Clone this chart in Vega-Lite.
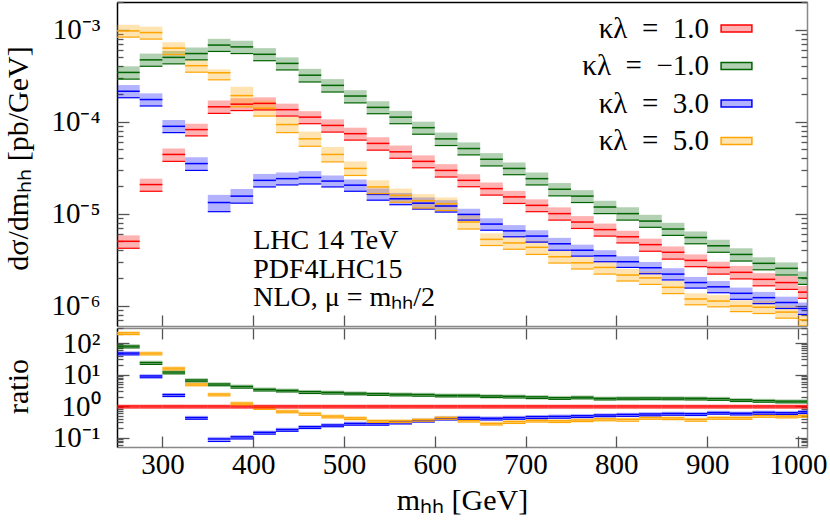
{
  "$schema": "https://vega.github.io/schema/vega-lite/v6.json",
  "padding": {"left": 3, "top": 1, "right": 0, "bottom": 5},
  "spacing": 0,
  "config": {
    "view": {"stroke": null},
    "font": "Liberation Serif",
    "axis": {"labelFont": "Liberation Serif", "titleFont": "Liberation Serif", "labelFontSize": 29, "titleFontSize": 29, "titleFontWeight": "normal", "labelColor": "#000", "titleColor": "#000", "grid": false, "labelFlush": false, "labelOverlap": false, "labelBound": false, "tickColor": "#555", "tickWidth": 1.3, "domainWidth": 1.5}
  },
  "datasets": {
    "top": [
      {"k":"1.0","x":250,"x2":275,"c":5.0e-6,"lo":4.2e-6,"hi":5.8e-6},
      {"k":"1.0","x":275,"x2":300,"c":2.07e-5,"lo":1.75e-5,"hi":2.4e-5},
      {"k":"1.0","x":300,"x2":325,"c":4.4e-5,"lo":3.7e-5,"hi":5.1e-5},
      {"k":"1.0","x":325,"x2":350,"c":8.2e-5,"lo":7.0e-5,"hi":9.5e-5},
      {"k":"1.0","x":350,"x2":375,"c":1.45e-4,"lo":1.23e-4,"hi":1.7e-4},
      {"k":"1.0","x":375,"x2":400,"c":1.55e-4,"lo":1.32e-4,"hi":1.8e-4},
      {"k":"1.0","x":400,"x2":425,"c":1.58e-4,"lo":1.34e-4,"hi":1.84e-4},
      {"k":"1.0","x":425,"x2":450,"c":1.35e-4,"lo":1.15e-4,"hi":1.57e-4},
      {"k":"1.0","x":450,"x2":475,"c":1.12e-4,"lo":9.5e-5,"hi":1.3e-4},
      {"k":"1.0","x":475,"x2":500,"c":9.1e-5,"lo":7.7e-5,"hi":1.06e-4},
      {"k":"1.0","x":500,"x2":525,"c":7.4e-5,"lo":6.3e-5,"hi":8.6e-5},
      {"k":"1.0","x":525,"x2":550,"c":5.8e-5,"lo":4.9e-5,"hi":6.75e-5},
      {"k":"1.0","x":550,"x2":575,"c":4.7e-5,"lo":4.0e-5,"hi":5.5e-5},
      {"k":"1.0","x":575,"x2":600,"c":3.7e-5,"lo":3.15e-5,"hi":4.3e-5},
      {"k":"1.0","x":600,"x2":625,"c":2.95e-5,"lo":2.5e-5,"hi":3.45e-5},
      {"k":"1.0","x":625,"x2":650,"c":2.3e-5,"lo":1.96e-5,"hi":2.68e-5},
      {"k":"1.0","x":650,"x2":675,"c":1.87e-5,"lo":1.59e-5,"hi":2.18e-5},
      {"k":"1.0","x":675,"x2":700,"c":1.52e-5,"lo":1.29e-5,"hi":1.77e-5},
      {"k":"1.0","x":700,"x2":725,"c":1.23e-5,"lo":1.05e-5,"hi":1.43e-5},
      {"k":"1.0","x":725,"x2":750,"c":1.0e-5,"lo":8.5e-6,"hi":1.17e-5},
      {"k":"1.0","x":750,"x2":775,"c":8.1e-6,"lo":6.9e-6,"hi":9.4e-6},
      {"k":"1.0","x":775,"x2":800,"c":6.7e-6,"lo":5.7e-6,"hi":7.8e-6},
      {"k":"1.0","x":800,"x2":825,"c":5.6e-6,"lo":4.8e-6,"hi":6.5e-6},
      {"k":"1.0","x":825,"x2":850,"c":4.6e-6,"lo":3.9e-6,"hi":5.35e-6},
      {"k":"1.0","x":850,"x2":875,"c":3.8e-6,"lo":3.2e-6,"hi":4.4e-6},
      {"k":"1.0","x":875,"x2":900,"c":3.1e-6,"lo":2.65e-6,"hi":3.6e-6},
      {"k":"1.0","x":900,"x2":925,"c":2.6e-6,"lo":2.2e-6,"hi":3.0e-6},
      {"k":"1.0","x":925,"x2":950,"c":2.3e-6,"lo":1.95e-6,"hi":2.7e-6},
      {"k":"1.0","x":950,"x2":975,"c":1.93e-6,"lo":1.64e-6,"hi":2.25e-6},
      {"k":"1.0","x":975,"x2":1000,"c":1.78e-6,"lo":1.5e-6,"hi":2.1e-6},
      {"k":"1.0","x":1000,"x2":1025,"c":1.4e-6,"lo":1.2e-6,"hi":1.63e-6},
      {"k":"−1.0","x":250,"x2":275,"c":3.43e-4,"lo":2.9e-4,"hi":4.0e-4},
      {"k":"−1.0","x":275,"x2":300,"c":4.7e-4,"lo":4.0e-4,"hi":5.5e-4},
      {"k":"−1.0","x":300,"x2":325,"c":5.0e-4,"lo":4.25e-4,"hi":5.85e-4},
      {"k":"−1.0","x":325,"x2":350,"c":5.5e-4,"lo":4.7e-4,"hi":6.4e-4},
      {"k":"−1.0","x":350,"x2":375,"c":6.8e-4,"lo":5.8e-4,"hi":7.95e-4},
      {"k":"−1.0","x":375,"x2":400,"c":6.5e-4,"lo":5.5e-4,"hi":7.6e-4},
      {"k":"−1.0","x":400,"x2":425,"c":5.4e-4,"lo":4.6e-4,"hi":6.3e-4},
      {"k":"−1.0","x":425,"x2":450,"c":4.3e-4,"lo":3.65e-4,"hi":5.0e-4},
      {"k":"−1.0","x":450,"x2":475,"c":3.2e-4,"lo":2.7e-4,"hi":3.75e-4},
      {"k":"−1.0","x":475,"x2":500,"c":2.48e-4,"lo":2.1e-4,"hi":2.9e-4},
      {"k":"−1.0","x":500,"x2":525,"c":1.9e-4,"lo":1.6e-4,"hi":2.2e-4},
      {"k":"−1.0","x":525,"x2":550,"c":1.43e-4,"lo":1.22e-4,"hi":1.67e-4},
      {"k":"−1.0","x":550,"x2":575,"c":1.12e-4,"lo":9.5e-5,"hi":1.31e-4},
      {"k":"−1.0","x":575,"x2":600,"c":8.6e-5,"lo":7.3e-5,"hi":1.0e-4},
      {"k":"−1.0","x":600,"x2":625,"c":6.5e-5,"lo":5.5e-5,"hi":7.6e-5},
      {"k":"−1.0","x":625,"x2":650,"c":5.1e-5,"lo":4.35e-5,"hi":5.95e-5},
      {"k":"−1.0","x":650,"x2":675,"c":3.9e-5,"lo":3.3e-5,"hi":4.55e-5},
      {"k":"−1.0","x":675,"x2":700,"c":3.1e-5,"lo":2.65e-5,"hi":3.6e-5},
      {"k":"−1.0","x":700,"x2":725,"c":2.4e-5,"lo":2.05e-5,"hi":2.8e-5},
      {"k":"−1.0","x":725,"x2":750,"c":1.84e-5,"lo":1.56e-5,"hi":2.15e-5},
      {"k":"−1.0","x":750,"x2":775,"c":1.55e-5,"lo":1.32e-5,"hi":1.8e-5},
      {"k":"−1.0","x":775,"x2":800,"c":1.18e-5,"lo":1.0e-5,"hi":1.38e-5},
      {"k":"−1.0","x":800,"x2":825,"c":1.0e-5,"lo":8.5e-6,"hi":1.17e-5},
      {"k":"−1.0","x":825,"x2":850,"c":8.3e-6,"lo":7.1e-6,"hi":9.7e-6},
      {"k":"−1.0","x":850,"x2":875,"c":6.8e-6,"lo":5.8e-6,"hi":7.95e-6},
      {"k":"−1.0","x":875,"x2":900,"c":5.5e-6,"lo":4.7e-6,"hi":6.4e-6},
      {"k":"−1.0","x":900,"x2":925,"c":4.47e-6,"lo":3.8e-6,"hi":5.2e-6},
      {"k":"−1.0","x":925,"x2":950,"c":3.6e-6,"lo":3.05e-6,"hi":4.2e-6},
      {"k":"−1.0","x":950,"x2":975,"c":2.88e-6,"lo":2.45e-6,"hi":3.35e-6},
      {"k":"−1.0","x":975,"x2":1000,"c":2.54e-6,"lo":2.15e-6,"hi":2.95e-6},
      {"k":"−1.0","x":1000,"x2":1025,"c":2.0e-6,"lo":1.7e-6,"hi":2.35e-6},
      {"k":"3.0","x":250,"x2":275,"c":2.14e-4,"lo":1.82e-4,"hi":2.5e-4},
      {"k":"3.0","x":275,"x2":300,"c":1.74e-4,"lo":1.48e-4,"hi":2.03e-4},
      {"k":"3.0","x":300,"x2":325,"c":8.9e-5,"lo":7.6e-5,"hi":1.04e-4},
      {"k":"3.0","x":325,"x2":350,"c":3.5e-5,"lo":2.95e-5,"hi":4.1e-5},
      {"k":"3.0","x":350,"x2":375,"c":1.32e-5,"lo":1.05e-5,"hi":1.6e-5},
      {"k":"3.0","x":375,"x2":400,"c":1.55e-5,"lo":1.3e-5,"hi":1.85e-5},
      {"k":"3.0","x":400,"x2":425,"c":2.3e-5,"lo":1.95e-5,"hi":2.7e-5},
      {"k":"3.0","x":425,"x2":450,"c":2.4e-5,"lo":2.05e-5,"hi":2.8e-5},
      {"k":"3.0","x":450,"x2":475,"c":2.47e-5,"lo":2.1e-5,"hi":2.9e-5},
      {"k":"3.0","x":475,"x2":500,"c":2.26e-5,"lo":1.95e-5,"hi":2.6e-5},
      {"k":"3.0","x":500,"x2":525,"c":2.04e-5,"lo":1.75e-5,"hi":2.35e-5},
      {"k":"3.0","x":525,"x2":550,"c":1.62e-5,"lo":1.4e-5,"hi":1.88e-5},
      {"k":"3.0","x":550,"x2":575,"c":1.45e-5,"lo":1.25e-5,"hi":1.68e-5},
      {"k":"3.0","x":575,"x2":600,"c":1.3e-5,"lo":1.12e-5,"hi":1.5e-5},
      {"k":"3.0","x":600,"x2":625,"c":1.21e-5,"lo":1.04e-5,"hi":1.4e-5},
      {"k":"3.0","x":625,"x2":650,"c":9.8e-6,"lo":8.5e-6,"hi":1.13e-5},
      {"k":"3.0","x":650,"x2":675,"c":7.7e-6,"lo":6.6e-6,"hi":8.9e-6},
      {"k":"3.0","x":675,"x2":700,"c":6.5e-6,"lo":5.6e-6,"hi":7.5e-6},
      {"k":"3.0","x":700,"x2":725,"c":5.7e-6,"lo":4.9e-6,"hi":6.6e-6},
      {"k":"3.0","x":725,"x2":750,"c":4.7e-6,"lo":4.0e-6,"hi":5.45e-6},
      {"k":"3.0","x":750,"x2":775,"c":4.0e-6,"lo":3.45e-6,"hi":4.6e-6},
      {"k":"3.0","x":775,"x2":800,"c":3.48e-6,"lo":3.0e-6,"hi":4.0e-6},
      {"k":"3.0","x":800,"x2":825,"c":3.0e-6,"lo":2.6e-6,"hi":3.45e-6},
      {"k":"3.0","x":825,"x2":850,"c":2.58e-6,"lo":2.22e-6,"hi":2.98e-6},
      {"k":"3.0","x":850,"x2":875,"c":2.2e-6,"lo":1.9e-6,"hi":2.55e-6},
      {"k":"3.0","x":875,"x2":900,"c":1.78e-6,"lo":1.55e-6,"hi":2.05e-6},
      {"k":"3.0","x":900,"x2":925,"c":1.6e-6,"lo":1.38e-6,"hi":1.85e-6},
      {"k":"3.0","x":925,"x2":950,"c":1.36e-6,"lo":1.17e-6,"hi":1.57e-6},
      {"k":"3.0","x":950,"x2":975,"c":1.22e-6,"lo":1.05e-6,"hi":1.41e-6},
      {"k":"3.0","x":975,"x2":1000,"c":1.08e-6,"lo":9.3e-7,"hi":1.25e-6},
      {"k":"3.0","x":1000,"x2":1025,"c":9.3e-7,"lo":8.0e-7,"hi":1.08e-6},
      {"k":"5.0","x":250,"x2":275,"c":9.7e-4,"lo":8.3e-4,"hi":1.13e-3},
      {"k":"5.0","x":275,"x2":300,"c":9.3e-4,"lo":7.9e-4,"hi":1.08e-3},
      {"k":"5.0","x":300,"x2":325,"c":6.3e-4,"lo":5.35e-4,"hi":7.3e-4},
      {"k":"5.0","x":325,"x2":350,"c":4.06e-4,"lo":3.45e-4,"hi":4.7e-4},
      {"k":"5.0","x":350,"x2":375,"c":3.4e-4,"lo":2.85e-4,"hi":3.7e-4},
      {"k":"5.0","x":375,"x2":400,"c":1.92e-4,"lo":1.45e-4,"hi":2.4e-4},
      {"k":"5.0","x":400,"x2":425,"c":1.4e-4,"lo":1.15e-4,"hi":1.7e-4},
      {"k":"5.0","x":425,"x2":450,"c":9.3e-5,"lo":7.6e-5,"hi":1.13e-4},
      {"k":"5.0","x":450,"x2":475,"c":6.5e-5,"lo":5.4e-5,"hi":7.8e-5},
      {"k":"5.0","x":475,"x2":500,"c":4.4e-5,"lo":3.65e-5,"hi":5.3e-5},
      {"k":"5.0","x":500,"x2":525,"c":3.1e-5,"lo":2.6e-5,"hi":3.7e-5},
      {"k":"5.0","x":525,"x2":550,"c":1.95e-5,"lo":1.65e-5,"hi":2.3e-5},
      {"k":"5.0","x":550,"x2":575,"c":1.58e-5,"lo":1.33e-5,"hi":1.87e-5},
      {"k":"5.0","x":575,"x2":600,"c":1.38e-5,"lo":1.15e-5,"hi":1.63e-5},
      {"k":"5.0","x":600,"x2":625,"c":1.28e-5,"lo":1.08e-5,"hi":1.5e-5},
      {"k":"5.0","x":625,"x2":650,"c":8.1e-6,"lo":6.8e-6,"hi":9.6e-6},
      {"k":"5.0","x":650,"x2":675,"c":5.25e-6,"lo":4.5e-6,"hi":6.1e-6},
      {"k":"5.0","x":675,"x2":700,"c":4.8e-6,"lo":4.1e-6,"hi":5.6e-6},
      {"k":"5.0","x":700,"x2":725,"c":4.3e-6,"lo":3.6e-6,"hi":5.1e-6},
      {"k":"5.0","x":725,"x2":750,"c":3.4e-6,"lo":2.9e-6,"hi":3.95e-6},
      {"k":"5.0","x":750,"x2":775,"c":2.92e-6,"lo":2.5e-6,"hi":3.4e-6},
      {"k":"5.0","x":775,"x2":800,"c":2.6e-6,"lo":2.2e-6,"hi":3.05e-6},
      {"k":"5.0","x":800,"x2":825,"c":2.15e-6,"lo":1.85e-6,"hi":2.5e-6},
      {"k":"5.0","x":825,"x2":850,"c":2.0e-6,"lo":1.7e-6,"hi":2.35e-6},
      {"k":"5.0","x":850,"x2":875,"c":1.58e-6,"lo":1.35e-6,"hi":1.85e-6},
      {"k":"5.0","x":875,"x2":900,"c":1.18e-6,"lo":1.02e-6,"hi":1.36e-6},
      {"k":"5.0","x":900,"x2":925,"c":1.12e-6,"lo":9.7e-7,"hi":1.3e-6},
      {"k":"5.0","x":925,"x2":950,"c":9.9e-7,"lo":8.6e-7,"hi":1.14e-6},
      {"k":"5.0","x":950,"x2":975,"c":9.6e-7,"lo":8.2e-7,"hi":1.13e-6},
      {"k":"5.0","x":975,"x2":1000,"c":8.5e-7,"lo":7.3e-7,"hi":1.0e-6},
      {"k":"5.0","x":1000,"x2":1025,"c":7.0e-7,"lo":6.0e-7,"hi":8.2e-7}
    ],
    "ratio": [
      {"k":"1.0","x":250,"x2":275,"c":1.0,"lo":0.87,"hi":1.13},
      {"k":"1.0","x":275,"x2":300,"c":1.0,"lo":0.87,"hi":1.13},
      {"k":"1.0","x":300,"x2":325,"c":1.0,"lo":0.87,"hi":1.13},
      {"k":"1.0","x":325,"x2":350,"c":1.0,"lo":0.87,"hi":1.13},
      {"k":"1.0","x":350,"x2":375,"c":1.0,"lo":0.87,"hi":1.13},
      {"k":"1.0","x":375,"x2":400,"c":1.0,"lo":0.87,"hi":1.13},
      {"k":"1.0","x":400,"x2":425,"c":1.0,"lo":0.87,"hi":1.13},
      {"k":"1.0","x":425,"x2":450,"c":1.0,"lo":0.87,"hi":1.13},
      {"k":"1.0","x":450,"x2":475,"c":1.0,"lo":0.87,"hi":1.13},
      {"k":"1.0","x":475,"x2":500,"c":1.0,"lo":0.87,"hi":1.13},
      {"k":"1.0","x":500,"x2":525,"c":1.0,"lo":0.87,"hi":1.13},
      {"k":"1.0","x":525,"x2":550,"c":1.0,"lo":0.87,"hi":1.13},
      {"k":"1.0","x":550,"x2":575,"c":1.0,"lo":0.87,"hi":1.13},
      {"k":"1.0","x":575,"x2":600,"c":1.0,"lo":0.87,"hi":1.13},
      {"k":"1.0","x":600,"x2":625,"c":1.0,"lo":0.87,"hi":1.13},
      {"k":"1.0","x":625,"x2":650,"c":1.0,"lo":0.87,"hi":1.13},
      {"k":"1.0","x":650,"x2":675,"c":1.0,"lo":0.87,"hi":1.13},
      {"k":"1.0","x":675,"x2":700,"c":1.0,"lo":0.87,"hi":1.13},
      {"k":"1.0","x":700,"x2":725,"c":1.0,"lo":0.87,"hi":1.13},
      {"k":"1.0","x":725,"x2":750,"c":1.0,"lo":0.87,"hi":1.13},
      {"k":"1.0","x":750,"x2":775,"c":1.0,"lo":0.87,"hi":1.13},
      {"k":"1.0","x":775,"x2":800,"c":1.0,"lo":0.87,"hi":1.13},
      {"k":"1.0","x":800,"x2":825,"c":1.0,"lo":0.87,"hi":1.13},
      {"k":"1.0","x":825,"x2":850,"c":1.0,"lo":0.87,"hi":1.13},
      {"k":"1.0","x":850,"x2":875,"c":1.0,"lo":0.87,"hi":1.13},
      {"k":"1.0","x":875,"x2":900,"c":1.0,"lo":0.87,"hi":1.13},
      {"k":"1.0","x":900,"x2":925,"c":1.0,"lo":0.87,"hi":1.13},
      {"k":"1.0","x":925,"x2":950,"c":1.0,"lo":0.87,"hi":1.13},
      {"k":"1.0","x":950,"x2":975,"c":1.0,"lo":0.87,"hi":1.13},
      {"k":"1.0","x":975,"x2":1000,"c":1.0,"lo":0.87,"hi":1.13},
      {"k":"1.0","x":1000,"x2":1025,"c":1.0,"lo":0.87,"hi":1.13},
      {"k":"−1.0","x":250,"x2":275,"c":80,"lo":70,"hi":92},
      {"k":"−1.0","x":275,"x2":300,"c":24,"lo":21,"hi":27.5},
      {"k":"−1.0","x":300,"x2":325,"c":12,"lo":10.5,"hi":13.8},
      {"k":"−1.0","x":325,"x2":350,"c":6.7,"lo":5.9,"hi":7.7},
      {"k":"−1.0","x":350,"x2":375,"c":5.0,"lo":4.4,"hi":5.7},
      {"k":"−1.0","x":375,"x2":400,"c":4.2,"lo":3.7,"hi":4.8},
      {"k":"−1.0","x":400,"x2":425,"c":3.4,"lo":3.0,"hi":3.9},
      {"k":"−1.0","x":425,"x2":450,"c":3.15,"lo":2.8,"hi":3.6},
      {"k":"−1.0","x":450,"x2":475,"c":2.86,"lo":2.5,"hi":3.25},
      {"k":"−1.0","x":475,"x2":500,"c":2.73,"lo":2.4,"hi":3.1},
      {"k":"−1.0","x":500,"x2":525,"c":2.57,"lo":2.27,"hi":2.93},
      {"k":"−1.0","x":525,"x2":550,"c":2.47,"lo":2.18,"hi":2.8},
      {"k":"−1.0","x":550,"x2":575,"c":2.38,"lo":2.1,"hi":2.7},
      {"k":"−1.0","x":575,"x2":600,"c":2.32,"lo":2.05,"hi":2.64},
      {"k":"−1.0","x":600,"x2":625,"c":2.2,"lo":1.95,"hi":2.5},
      {"k":"−1.0","x":625,"x2":650,"c":2.2,"lo":1.95,"hi":2.5},
      {"k":"−1.0","x":650,"x2":675,"c":2.09,"lo":1.85,"hi":2.37},
      {"k":"−1.0","x":675,"x2":700,"c":2.04,"lo":1.8,"hi":2.32},
      {"k":"−1.0","x":700,"x2":725,"c":1.95,"lo":1.72,"hi":2.22},
      {"k":"−1.0","x":725,"x2":750,"c":1.84,"lo":1.63,"hi":2.1},
      {"k":"−1.0","x":750,"x2":775,"c":1.91,"lo":1.69,"hi":2.17},
      {"k":"−1.0","x":775,"x2":800,"c":1.76,"lo":1.56,"hi":2.0},
      {"k":"−1.0","x":800,"x2":825,"c":1.79,"lo":1.58,"hi":2.03},
      {"k":"−1.0","x":825,"x2":850,"c":1.8,"lo":1.59,"hi":2.05},
      {"k":"−1.0","x":850,"x2":875,"c":1.79,"lo":1.58,"hi":2.03},
      {"k":"−1.0","x":875,"x2":900,"c":1.77,"lo":1.56,"hi":2.01},
      {"k":"−1.0","x":900,"x2":925,"c":1.72,"lo":1.52,"hi":1.96},
      {"k":"−1.0","x":925,"x2":950,"c":1.57,"lo":1.39,"hi":1.79},
      {"k":"−1.0","x":950,"x2":975,"c":1.49,"lo":1.32,"hi":1.7},
      {"k":"−1.0","x":975,"x2":1000,"c":1.43,"lo":1.26,"hi":1.63},
      {"k":"−1.0","x":1000,"x2":1025,"c":1.43,"lo":1.26,"hi":1.63},
      {"k":"3.0","x":250,"x2":275,"c":48,"lo":42,"hi":55},
      {"k":"3.0","x":275,"x2":300,"c":9,"lo":7.9,"hi":10.3},
      {"k":"3.0","x":300,"x2":325,"c":2.3,"lo":2.0,"hi":2.6},
      {"k":"3.0","x":325,"x2":350,"c":0.43,"lo":0.38,"hi":0.49},
      {"k":"3.0","x":350,"x2":375,"c":0.09,"lo":0.075,"hi":0.105},
      {"k":"3.0","x":375,"x2":400,"c":0.105,"lo":0.09,"hi":0.12},
      {"k":"3.0","x":400,"x2":425,"c":0.146,"lo":0.128,"hi":0.166},
      {"k":"3.0","x":425,"x2":450,"c":0.18,"lo":0.158,"hi":0.205},
      {"k":"3.0","x":450,"x2":475,"c":0.22,"lo":0.193,"hi":0.25},
      {"k":"3.0","x":475,"x2":500,"c":0.25,"lo":0.22,"hi":0.285},
      {"k":"3.0","x":500,"x2":525,"c":0.28,"lo":0.246,"hi":0.32},
      {"k":"3.0","x":525,"x2":550,"c":0.28,"lo":0.246,"hi":0.32},
      {"k":"3.0","x":550,"x2":575,"c":0.31,"lo":0.27,"hi":0.35},
      {"k":"3.0","x":575,"x2":600,"c":0.35,"lo":0.31,"hi":0.4},
      {"k":"3.0","x":600,"x2":625,"c":0.41,"lo":0.36,"hi":0.47},
      {"k":"3.0","x":625,"x2":650,"c":0.43,"lo":0.38,"hi":0.49},
      {"k":"3.0","x":650,"x2":675,"c":0.41,"lo":0.36,"hi":0.47},
      {"k":"3.0","x":675,"x2":700,"c":0.43,"lo":0.38,"hi":0.49},
      {"k":"3.0","x":700,"x2":725,"c":0.46,"lo":0.4,"hi":0.52},
      {"k":"3.0","x":725,"x2":750,"c":0.47,"lo":0.41,"hi":0.54},
      {"k":"3.0","x":750,"x2":775,"c":0.49,"lo":0.43,"hi":0.56},
      {"k":"3.0","x":775,"x2":800,"c":0.52,"lo":0.46,"hi":0.59},
      {"k":"3.0","x":800,"x2":825,"c":0.54,"lo":0.47,"hi":0.61},
      {"k":"3.0","x":825,"x2":850,"c":0.56,"lo":0.49,"hi":0.64},
      {"k":"3.0","x":850,"x2":875,"c":0.58,"lo":0.51,"hi":0.66},
      {"k":"3.0","x":875,"x2":900,"c":0.57,"lo":0.5,"hi":0.65},
      {"k":"3.0","x":900,"x2":925,"c":0.62,"lo":0.55,"hi":0.71},
      {"k":"3.0","x":925,"x2":950,"c":0.59,"lo":0.52,"hi":0.67},
      {"k":"3.0","x":950,"x2":975,"c":0.63,"lo":0.55,"hi":0.72},
      {"k":"3.0","x":975,"x2":1000,"c":0.61,"lo":0.54,"hi":0.7},
      {"k":"3.0","x":1000,"x2":1025,"c":0.66,"lo":0.58,"hi":0.75},
      {"k":"5.0","x":250,"x2":275,"c":210,"lo":185,"hi":240},
      {"k":"5.0","x":275,"x2":300,"c":48,"lo":42,"hi":55},
      {"k":"5.0","x":300,"x2":325,"c":16,"lo":14,"hi":18.2},
      {"k":"5.0","x":325,"x2":350,"c":5.0,"lo":4.4,"hi":5.7},
      {"k":"5.0","x":350,"x2":375,"c":2.4,"lo":2.1,"hi":2.7},
      {"k":"5.0","x":375,"x2":400,"c":1.24,"lo":1.09,"hi":1.41},
      {"k":"5.0","x":400,"x2":425,"c":0.89,"lo":0.78,"hi":1.01},
      {"k":"5.0","x":425,"x2":450,"c":0.69,"lo":0.61,"hi":0.79},
      {"k":"5.0","x":450,"x2":475,"c":0.58,"lo":0.51,"hi":0.66},
      {"k":"5.0","x":475,"x2":500,"c":0.48,"lo":0.42,"hi":0.55},
      {"k":"5.0","x":500,"x2":525,"c":0.42,"lo":0.37,"hi":0.48},
      {"k":"5.0","x":525,"x2":550,"c":0.34,"lo":0.3,"hi":0.39},
      {"k":"5.0","x":550,"x2":575,"c":0.34,"lo":0.3,"hi":0.39},
      {"k":"5.0","x":575,"x2":600,"c":0.37,"lo":0.33,"hi":0.42},
      {"k":"5.0","x":600,"x2":625,"c":0.43,"lo":0.38,"hi":0.49},
      {"k":"5.0","x":625,"x2":650,"c":0.35,"lo":0.31,"hi":0.4},
      {"k":"5.0","x":650,"x2":675,"c":0.28,"lo":0.25,"hi":0.32},
      {"k":"5.0","x":675,"x2":700,"c":0.32,"lo":0.28,"hi":0.36},
      {"k":"5.0","x":700,"x2":725,"c":0.35,"lo":0.31,"hi":0.4},
      {"k":"5.0","x":725,"x2":750,"c":0.34,"lo":0.3,"hi":0.39},
      {"k":"5.0","x":750,"x2":775,"c":0.36,"lo":0.32,"hi":0.41},
      {"k":"5.0","x":775,"x2":800,"c":0.39,"lo":0.34,"hi":0.44},
      {"k":"5.0","x":800,"x2":825,"c":0.38,"lo":0.33,"hi":0.43},
      {"k":"5.0","x":825,"x2":850,"c":0.43,"lo":0.38,"hi":0.49},
      {"k":"5.0","x":850,"x2":875,"c":0.42,"lo":0.37,"hi":0.48},
      {"k":"5.0","x":875,"x2":900,"c":0.38,"lo":0.33,"hi":0.43},
      {"k":"5.0","x":900,"x2":925,"c":0.43,"lo":0.38,"hi":0.49},
      {"k":"5.0","x":925,"x2":950,"c":0.43,"lo":0.38,"hi":0.49},
      {"k":"5.0","x":950,"x2":975,"c":0.5,"lo":0.44,"hi":0.57},
      {"k":"5.0","x":975,"x2":1000,"c":0.48,"lo":0.42,"hi":0.55},
      {"k":"5.0","x":1000,"x2":1025,"c":0.5,"lo":0.44,"hi":0.57}
    ]
  },
  "vconcat": [
    {
      "width": 690,
      "height": 324,
      "data": {"name": "top"},
      "layer": [
        {
          "mark": {"type": "rect", "fillOpacity": 0.3, "strokeWidth": 0, "clip": true},
          "encoding": {
            "x": {"field": "x", "type": "quantitative", "scale": {"domain": [250, 1010], "nice": false, "zero": false},
                  "axis": {"orient": "bottom", "values": [300,400,500,600,700,800,900,1000], "labels": false, "ticks": true, "tickSize": -11, "domainColor": "#888", "title": null}},
            "x2": {"field": "x2"},
            "y": {"field": "lo", "type": "quantitative", "scale": {"type": "log", "domain": [6e-7, 2e-3], "nice": false},
                  "axis": {"orient": "left", "values": [1e-6,1e-5,1e-4,1e-3], "ticks": false, "labelPadding": 17, "domainColor": "#000",
                           "labelExpr": "datum.value < 5e-6 ? '10⁻⁶' : datum.value < 5e-5 ? '10⁻⁵' : datum.value < 5e-4 ? '10⁻⁴' : '10⁻³'",
                           "title": "dσ/dmₕₕ [pb/GeV]", "titleX": -90, "titleY": 156, "titleAngle": -90, "titleBaseline": "alphabetic", "titleAlign": "center", "titleFontSize": 30}},
            "y2": {"field": "hi"},
            "color": {"field": "k", "type": "nominal", "sort": ["1.0","−1.0","3.0","5.0"],
                      "scale": {"domain": ["1.0","−1.0","3.0","5.0"], "range": ["#ff0000","#006400","#0000ff","#ffa500"]},
                      "legend": {"orient": "none", "legendX": 605, "legendY": 12, "title": null,
                                 "symbolType": "M-2.2,-0.5L2.2,-0.5L2.2,0.5L-2.2,0.5Z", "symbolSize": 196, "symbolStrokeWidth": 1.5,
                                 "labelFont": "Liberation Serif", "labelFontSize": 29, "labelColor": "#000", "labelAlign": "right", "labelOffset": -42, "labelLimit": 400,
                                 "rowPadding": 7.5, "padding": 0,
                                 "labelExpr": "'κλ\u2002=\u2002' + datum.label",
                                 "encode": {"symbols": {"update": {"fillOpacity": {"value": 0.3}, "stroke": {"scale": "color", "field": "value"}, "strokeWidth": {"value": 1.5}}}}}}
          }
        },
        {
          "mark": {"type": "rule", "strokeWidth": 1.5, "clip": true},
          "encoding": {
            "x": {"field": "x", "type": "quantitative", "axis": {"orient": "top", "ticks": false, "labels": false, "domainColor": "#000", "title": null}},
            "x2": {"field": "x2"},
            "y": {"field": "c", "type": "quantitative",
                  "axis": {"orient": "left", "values": [1e-6,1e-5,1e-4,1e-3], "labels": false, "domain": false, "tickSize": -12, "title": null}},
            "color": {"field": "k", "type": "nominal", "legend": null}
          }
        },
        {
          "mark": {"type": "rule", "strokeWidth": 1.2, "clip": true},
          "encoding": {
            "x": {"field": "x", "type": "quantitative", "axis": null},
            "x2": {"field": "x2"},
            "y": {"field": "lo", "type": "quantitative",
                  "axis": {"orient": "left", "values": [7e-7,8e-7,9e-7,2e-6,3e-6,4e-6,5e-6,6e-6,7e-6,8e-6,9e-6,2e-5,3e-5,4e-5,5e-5,6e-5,7e-5,8e-5,9e-5,2e-4,3e-4,4e-4,5e-4,6e-4,7e-4,8e-4,9e-4,2e-3], "labels": false, "domain": false, "tickSize": -6, "title": null}},
            "color": {"field": "k", "type": "nominal", "legend": null}
          }
        },
        {
          "mark": {"type": "rule", "opacity": 0},
          "encoding": {
            "x": {"field": "x", "type": "quantitative", "axis": null},
            "x2": {"field": "x2"},
            "y": {"field": "c", "type": "quantitative",
                  "axis": {"orient": "right", "values": [1e-6,1e-5,1e-4,1e-3], "labels": false, "domainColor": "#888", "tickSize": -12, "title": null}}
          }
        },
        {
          "mark": {"type": "rule", "opacity": 0},
          "encoding": {
            "x": {"field": "x", "type": "quantitative", "axis": null},
            "x2": {"field": "x2"},
            "y": {"field": "c", "type": "quantitative",
                  "axis": {"orient": "right", "values": [7e-7,8e-7,9e-7,2e-6,3e-6,4e-6,5e-6,6e-6,7e-6,8e-6,9e-6,2e-5,3e-5,4e-5,5e-5,6e-5,7e-5,8e-5,9e-5,2e-4,3e-4,4e-4,5e-4,6e-4,7e-4,8e-4,9e-4,2e-3], "labels": false, "domain": false, "tickSize": -6, "title": null}}
          }
        },
        {
          "data": {"values": [{"note": "annotation"}]},
          "mark": {"type": "text", "align": "left", "baseline": "alphabetic", "fontSize": 28, "font": "Liberation Serif", "lineHeight": 28.5, "color": "#000",
                   "text": ["LHC 14 TeV", "PDF4LHC15", "NLO, μ = mₕₕ/2"]},
          "encoding": {
            "x": {"datum": 400, "type": "quantitative", "axis": null},
            "y": {"datum": 4.1e-6, "type": "quantitative", "axis": null}
          }
        }
      ],
      "resolve": {"axis": {"x": "independent", "y": "independent"}}
    },
    {
      "width": 690,
      "height": 119,
      "data": {"name": "ratio"},
      "layer": [
        {
          "mark": {"type": "rect", "fillOpacity": 0.3, "strokeWidth": 0, "clip": true},
          "encoding": {
            "x": {"field": "x", "type": "quantitative", "scale": {"domain": [250, 1010], "nice": false, "zero": false},
                  "axis": {"orient": "bottom", "values": [300,400,500,600,700,800,900,1000], "format": "d", "ticks": false, "labelPadding": 3, "domainColor": "#888",
                           "title": "mₕₕ [GeV]", "titleX": 345, "titleY": 62, "titleBaseline": "alphabetic", "titleAlign": "center", "titleFontSize": 30}},
            "x2": {"field": "x2"},
            "y": {"field": "lo", "type": "quantitative", "scale": {"type": "log", "domain": [0.05, 300], "nice": false},
                  "axis": {"orient": "left", "values": [0.1, 1, 10, 100], "ticks": false, "labelPadding": 17, "domainColor": "#000",
                           "labelExpr": "datum.value < 0.5 ? '10⁻¹' : datum.value < 5 ? '10⁰' : datum.value < 50 ? '10¹' : '10²'",
                           "title": "ratio", "titleX": -90, "titleY": 58, "titleAngle": -90, "titleBaseline": "alphabetic", "titleAlign": "center", "titleFontSize": 30}},
            "y2": {"field": "hi"},
            "color": {"field": "k", "type": "nominal", "legend": null}
          }
        },
        {
          "mark": {"type": "rule", "strokeWidth": 1.5, "clip": true},
          "encoding": {
            "x": {"field": "x", "type": "quantitative", "axis": {"orient": "bottom", "values": [300,400,500,600,700,800,900,1000], "labels": false, "domain": false, "tickSize": -11, "title": null}},
            "x2": {"field": "x2"},
            "y": {"field": "c", "type": "quantitative",
                  "axis": {"orient": "left", "values": [0.1, 1, 10, 100], "labels": false, "domain": false, "tickSize": -12, "title": null}},
            "color": {"field": "k", "type": "nominal", "legend": null}
          }
        },
        {
          "mark": {"type": "rule", "strokeWidth": 1.2, "clip": true},
          "encoding": {
            "x": {"field": "x", "type": "quantitative", "axis": {"orient": "top", "values": [300,400,500,600,700,800,900,1000], "labels": false, "domainColor": "#888", "tickSize": -11, "title": null}},
            "x2": {"field": "x2"},
            "y": {"field": "lo", "type": "quantitative",
                  "axis": {"orient": "left", "values": [0.06,0.07,0.08,0.09,0.2,0.3,0.4,0.5,0.6,0.7,0.8,0.9,2,3,4,5,6,7,8,9,20,30,40,50,60,70,80,90,200,300], "labels": false, "domain": false, "tickSize": -6, "title": null}},
            "color": {"field": "k", "type": "nominal", "legend": null}
          }
        },
        {
          "mark": {"type": "rule", "opacity": 0},
          "encoding": {
            "x": {"field": "x", "type": "quantitative", "axis": null},
            "x2": {"field": "x2"},
            "y": {"field": "c", "type": "quantitative",
                  "axis": {"orient": "right", "values": [0.1, 1, 10, 100], "labels": false, "domainColor": "#888", "tickSize": -12, "title": null}}
          }
        },
        {
          "mark": {"type": "rule", "opacity": 0},
          "encoding": {
            "x": {"field": "x", "type": "quantitative", "axis": null},
            "x2": {"field": "x2"},
            "y": {"field": "c", "type": "quantitative",
                  "axis": {"orient": "right", "values": [0.06,0.07,0.08,0.09,0.2,0.3,0.4,0.5,0.6,0.7,0.8,0.9,2,3,4,5,6,7,8,9,20,30,40,50,60,70,80,90,200,300], "labels": false, "domain": false, "tickSize": -6, "title": null}}
          }
        }
      ],
      "resolve": {"axis": {"x": "independent", "y": "independent"}}
    }
  ]
}
